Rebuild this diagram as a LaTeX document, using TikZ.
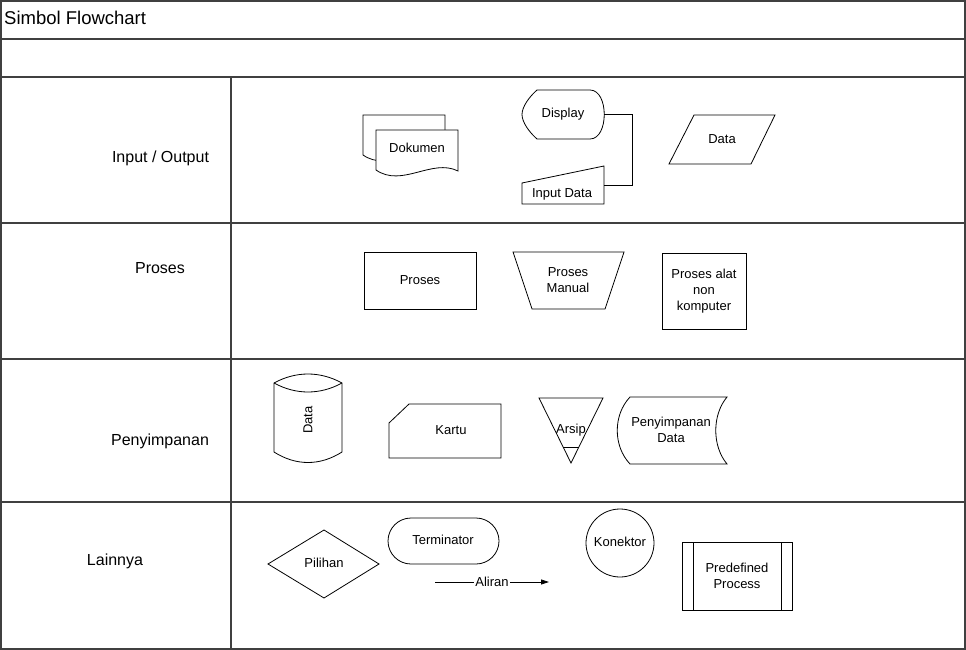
\documentclass[tikz,border=0pt]{standalone}
\usepackage{fontspec}
\setmainfont{Liberation Sans}
\usetikzlibrary{arrows.meta}
\begin{document}
\begin{tikzpicture}[x=1pt,y=-1pt,
  gridline/.style={line width=1.3pt, draw=black!75},
  shp/.style={line width=0.8pt, draw=black, fill=white, line join=miter},
  lbl/.style={font=\fontsize{13}{16}\selectfont, align=center, inner sep=0pt},
  rowlbl/.style={font=\fontsize{16}{19}\selectfont, inner sep=0pt},
  conn/.style={line width=0.8pt, draw=black}]
\fill[white] (0,0) rectangle (966,650);
\useasboundingbox (0,0) rectangle (966,650);
% frame
\draw[gridline] (1,1) rectangle (965,649);
\draw[gridline] (1,39) -- (965,39);
\draw[gridline] (1,77) -- (965,77);
\draw[gridline] (231,77) -- (231,649);
\draw[gridline] (1,223) -- (965,223);
\draw[gridline] (1,359) -- (965,359);
\draw[gridline] (1,502) -- (965,502);
\node[font=\fontsize{18.5}{22}\selectfont, inner sep=0pt, anchor=base west] (title) at (4,25) {Simbol Flowchart};
% row labels
\node[rowlbl] (rIO) at (160.5,158) {Input / Output};
\node[rowlbl] (rPr) at (160,268) {Proses};
\node[rowlbl] (rPy) at (160,441) {Penyimpanan};
\node[rowlbl] (rLa) at (115,561) {Lainnya};
% ---- Input / Output
\draw[shp] (363,115) -- (445,115) -- (445,156) .. controls (419,143) and (389,173) .. (363,155) -- cycle;
\draw[shp] (376,130) -- (458,130) -- (458,171) .. controls (432,158) and (402,188) .. (376,170) -- cycle;
\node[lbl] (dok) at (417,148) {Dokumen};
\draw[shp] (537,90) -- (590,90) .. controls (609,90) and (609,139) .. (590,139) -- (537,139)
  .. controls (529,132) and (522,122) .. (522,114.5) .. controls (522,107) and (529,97) .. (537,90) -- cycle;
\node[lbl] (disp) at (563,114) {Display};
\coordinate (dispE) at (604,114);
\draw[shp] (522,183) -- (604,166) -- (604,204) -- (522,204) -- cycle;
\node[lbl] (inp) at (562,194) {Input Data};
\coordinate (inpE) at (604,185);
\coordinate (bend) at (632,114);
\draw[conn] (dispE) -- (bend) |- (inpE);
\draw[shp] (694,115) -- (775,115) -- (751,164) -- (669,164) -- cycle;
\node[lbl] (data1) at (722,139) {Data};
% ---- Proses
\draw[shp] (364,252) rectangle (476,309);
\node[lbl] (pros) at (420,280) {Proses};
\draw[shp] (513,252) -- (624,252) -- (605,309) -- (532,309) -- cycle;
\node[lbl] (prosm) at (568,280) {Proses\\Manual};
\draw[shp] (662,253) rectangle (746,329);
\node[lbl] (prosa) at (704,291) {Proses alat\\non\\komputer};
% ---- Penyimpanan
\draw[shp] (274,383) .. controls (296,371) and (320,371) .. (342,383) -- (342,452)
  .. controls (320,466) and (296,466) .. (274,452) -- cycle;
\draw[conn] (274,383) .. controls (296,395) and (320,395) .. (342,383);
\node[lbl, rotate=90] (data2) at (308,420) {Data};
\draw[shp] (389,423) -- (409,404) -- (501,404) -- (501,458) -- (389,458) -- cycle;
\node[lbl] (kartu) at (451,430) {Kartu};
\draw[shp] (539,398) -- (603,398) -- (571,463) -- cycle;
\draw[conn] (563.1,447) -- (578.9,447);
\node[lbl] (arsip) at (571,430) {Arsip};
\draw[shp] (630,397) -- (727,397) .. controls (712,415) and (712,446) .. (727,464) -- (630,464)
  .. controls (613,446) and (613,415) .. (630,397) -- cycle;
\node[lbl] (penyd) at (671,430) {Penyimpanan\\Data};
% ---- Lainnya
\draw[shp] (268,564) -- (324,530) -- (379,564) -- (324,598) -- cycle;
\node[lbl] (pil) at (324,563) {Pilihan};
\draw[shp, rounded corners=23pt] (388,518) rectangle (499,564);
\node[lbl] (term) at (443,540) {Terminator};
\coordinate (alA) at (435,582);
\coordinate (alB) at (549,582);
\node[lbl, inner xsep=1pt] (aliran) at (492,582) {Aliran};
\draw[conn] (alA) -- (aliran.west);
\draw[conn, -{Triangle[length=8pt,width=5pt]}] (aliran.east) -- (alB);
\draw[shp] (620,543) circle (34);
\node[lbl] (kon) at (620,542) {Konektor};
\draw[shp] (682,542) rectangle (792,610);
\draw[conn] (693,542) -- (693,610);
\draw[conn] (781,542) -- (781,610);
\node[lbl] (pred) at (737,576) {Predefined\\Process};
\end{tikzpicture}
\end{document}
